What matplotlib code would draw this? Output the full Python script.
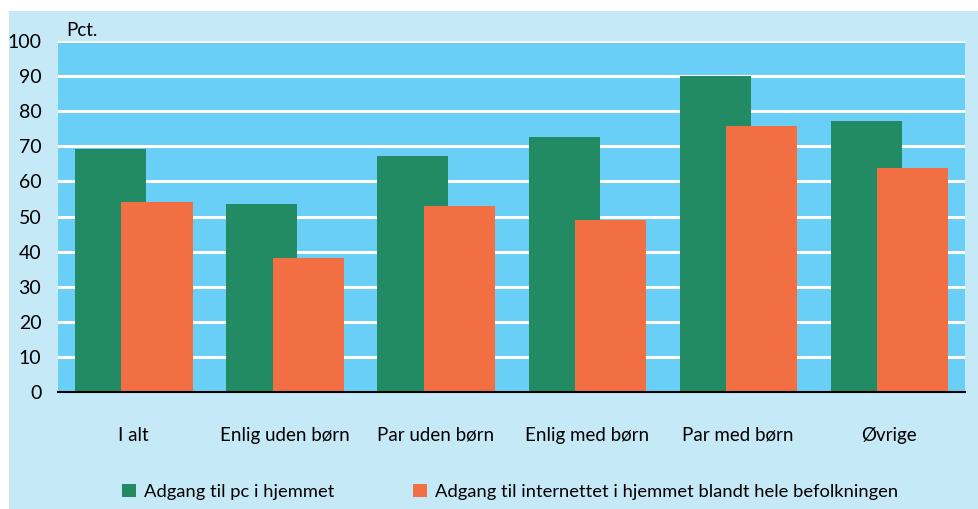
import matplotlib
matplotlib.use("Agg")
import matplotlib.pyplot as plt
from matplotlib.patches import Rectangle
import numpy as np

categories = ["I alt", "Enlig uden børn", "Par uden børn", "Enlig med børn", "Par med børn", "Øvrige"]
pc = [69.2, 53.6, 67.2, 72.6, 90.0, 77.2]
internet = [54.1, 38.2, 53.0, 49.0, 75.8, 63.8]
series_names = ["Adgang til pc i hjemmet", "Adgang til internettet i hjemmet blandt hele befolkningen"]
yticks = [0, 10, 20, 30, 40, 50, 60, 70, 80, 90, 100]

plt.rcParams['font.family'] = ['Lato', 'DejaVu Sans']
FS = 13.5

W, H = 979, 509
fig = plt.figure(figsize=(W/100, H/100), dpi=100)
fig.patch.set_facecolor('white')
fig.patches.append(Rectangle((9/W, 0), 1 - 9/W, 1 - 11/H, transform=fig.transFigure,
                             facecolor='#C6E9F8', edgecolor='none', zorder=-10))

left, right, top, bottom = 58, 965, 41, 392
ax = fig.add_axes([left/W, 1 - bottom/H, (right-left)/W, (bottom-top)/H])
ax.set_facecolor('#6ACFF6')

x = np.arange(len(categories))
green = '#228B63'
orange = '#F26F43'
b1 = ax.bar(x - 0.152, pc, width=0.47, color=green, zorder=3, label=series_names[0])
b2 = ax.bar(x + 0.155, internet, width=0.47, color=orange, zorder=4, label=series_names[1])

ax.set_xlim(-0.5, len(categories) - 0.5)
ax.set_ylim(0, 100)
ax.set_yticks(yticks)
ax.set_yticklabels([str(t) for t in yticks], fontsize=14)
ax.set_xticks(x)
ax.set_xticklabels(categories, fontsize=FS)
ax.tick_params(axis='both', length=0, colors='black')
ax.tick_params(axis='x', pad=25)
ax.tick_params(axis='y', pad=12)
ax.yaxis.grid(True, color='white', linewidth=2.2, zorder=1)
ax.set_axisbelow(True)
for s in ['top', 'right', 'left']:
    ax.spines[s].set_visible(False)
ax.spines['bottom'].set_color('black')
ax.spines['bottom'].set_linewidth(1.5)
ax.spines['bottom'].set_zorder(5)

fig.text(66/W, 1 - 30/H, "Pct.", fontsize=FS, va='center', ha='left')

for handle, name, xpos in [(b1, series_names[0], 122), (b2, series_names[1], 413)]:
    fig.legend([handle], [name], loc='center left', bbox_to_anchor=(xpos/W, 1 - 492/H),
               frameon=False, fontsize=13.2, handlelength=0.75, handleheight=0.75,
               handletextpad=0.45, borderaxespad=0, borderpad=0)

fig.savefig("out.png", dpi=100)
